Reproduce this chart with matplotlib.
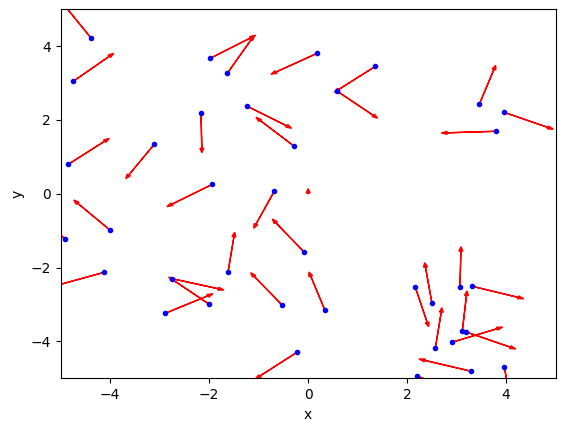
import matplotlib
matplotlib.use("Agg")
import matplotlib.pyplot as plt

# point positions
x = [-4.38, -4.745, -1.978, -1.634, 0.184, 1.36, 0.588, 3.457, 3.956, 3.80,
     -2.166, -1.230, -0.281, -4.846, -3.109, -1.937, -3.998, -4.907, -0.685, -0.079,
     -4.119, -1.620, -2.745, -1.998, -2.887, -0.523, 0.339, -0.226, 2.164, 2.501,
     3.067, 3.315, 2.568, 3.113, 3.194, 2.905, 3.295, 3.962, 2.204]
y = [4.21, 3.049, 3.672, 3.266, 3.808, 3.455, 2.778, 2.425, 2.209, 1.694,
     2.182, 2.371, 1.287, 0.799, 1.341, 0.257, -0.989, -1.233, 0.068, -1.585,
     -2.127, -2.127, -2.301, -2.995, -3.238, -3.022, -3.157, -4.295, -2.534, -2.967,
     -2.534, -2.507, -4.187, -3.726, -3.745, -4.024, -4.81, -4.694, -4.937]
# arrow vectors (to tip)
dx = [-0.57, 0.816, 0.917, 0.539, -0.936, -0.833, 0.816, 0.331, 0.996, -1.111,
      0.02, 0.897, -0.774, 0.828, -0.578, -0.916, -0.739, -0.70, -0.416, -0.646,
      -1.03, 0.135, 1.044, -0.82, 0.964, -0.639, -0.323, -0.84, 0.27, -0.147,
      0.02, 1.039, 0.135, 0.095, 0.998, 1.024, -1.057, 0.15, 0.96]
dy = [0.94, 0.759, 0.623, 1.019, -0.57, -0.704, -0.732, 1.057, -0.461, -0.046,
      -1.068, -0.596, 0.786, 0.705, -0.932, -0.606, 0.821, 0.85, -1.003, 0.902,
      -0.38, 1.084, -0.306, 0.74, 0.531, 0.884, 1.038, -0.72, -1.068, 1.1,
      1.1, -0.336, 1.1, 1.092, -0.461, 0.414, 0.333, -1.09, -0.54]

# extra tiny arrow at origin
ox, oy, odx, ody = 0.0, 0.0, 0.0, 0.02

fig = plt.figure(figsize=(5.65, 4.32), dpi=100)
ax = fig.add_axes([0.1074, 0.1243, 0.8761, 0.8542])

for xi, yi, u, v in zip(x, y, dx, dy):
    ax.arrow(xi, yi, u, v, head_width=0.08, head_length=0.12,
             length_includes_head=True, color='r')
ax.arrow(ox, oy, odx, ody, head_width=0.08, head_length=0.12, color='r')
ax.plot(x, y, 'b.')

ax.set_xlim(-5, 5)
ax.set_ylim(-5, 5)
ax.set_xlabel('x')
ax.set_ylabel('y')
fig.savefig('out.png', dpi=100)
